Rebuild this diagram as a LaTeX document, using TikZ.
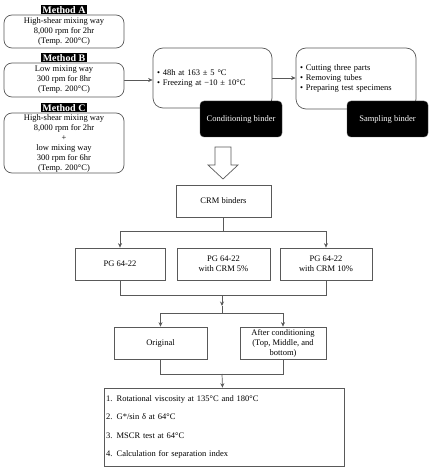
\documentclass[tikz,border=0pt]{standalone}
\usepackage{fontspec}
\setmainfont{Liberation Serif}
\usetikzlibrary{arrows.meta}
\pgfdeclarelayer{nodelayer}
\pgfdeclarelayer{edgelayer}
\pgfsetlayers{edgelayer,nodelayer,main}
\tikzstyle{none}=[inner sep=0pt]
\tikzset{line/.style={draw=black!65, line width=0.7pt}}
\tikzset{arrow/.style={line, -{Stealth[length=4.5pt, width=4pt]}}}
\tikzset{method/.style={draw=black!65, line width=0.7pt, rounded corners=8pt, fill=white, align=center, inner sep=0pt, minimum width=120pt}}
\tikzset{tag/.style={fill=black, text=white, font=\bfseries, inner sep=0pt, minimum width=46pt, minimum height=9pt}}
\tikzset{stage/.style={draw=black!65, line width=0.7pt, rounded corners=10pt, fill=white, align=left, inner xsep=4pt, inner ysep=0pt}}
\tikzset{darkbox/.style={fill=black, draw=black!70, rounded corners=4pt, text=white, minimum width=82pt, minimum height=36pt, inner sep=0pt}}
\tikzset{box/.style={draw=black!65, line width=0.7pt, fill=white, align=center, minimum height=32pt, inner sep=0pt}}

\begin{document}
\begin{tikzpicture}[x=1pt, y=-1pt, font=\fontsize{8.5}{10}\selectfont]
        \useasboundingbox (0, 0) rectangle (438, 473);
        \begin{pgfonlayer}{nodelayer}
            % mixing methods
            \node [style=method, minimum height=33pt] (1) at (64, 31.5) {High-shear mixing way\\8,000 rpm for 2hr\\(Temp. 200°C)};
            \node [style=tag, anchor=south] (0) at (1.north) {Method A};
            \node [style=method, minimum height=34pt] (3) at (64, 80) {Low mixing way\\300 rpm for 8hr\\(Temp. 200°C)};
            \node [style=tag, anchor=south] (2) at (3.north) {Method B};
            \node [style=method, minimum height=60pt] (5) at (64, 143) {High-shear mixing way\\8,000 rpm for 2hr\\+\\low mixing way\\300 rpm for 6hr\\(Temp. 200°C)};
            \node [style=tag, anchor=south] (4) at (5.north) {Method C};
            % conditioning and sampling
            \node [style=stage, text width=111pt, minimum height=60pt] (6) at (212.5, 78) {• 48h at 163 ± 5 °C\\• Freezing at −10 ± 10°C};
            \node [style=darkbox] (7) at (241, 119) {Conditioning binder};
            \node [style=stage, text width=112pt, minimum height=61pt] (8) at (356, 78.5) {• Cutting three parts\\• Removing tubes\\• Preparing test specimens};
            \node [style=darkbox, minimum width=81pt] (9) at (387.5, 119) {Sampling binder};
            % binders
            \node [style=box, minimum width=95pt] (10) at (223.5, 201) {CRM binders};
            \node [style=box, minimum width=90pt] (11) at (120, 264) {PG 64-22};
            \node [style=box, minimum width=93pt] (12) at (223.5, 264) {PG 64-22\\with CRM 5\%};
            \node [style=box, minimum width=92pt] (13) at (326, 264) {PG 64-22\\with CRM 10\%};
            \node [style=box, minimum width=93pt] (14) at (160.5, 343) {Original};
            \node [style=box, minimum width=86pt] (15) at (283, 343) {After conditioning\\(Top, Middle, and\\bottom)};
            \node [style=box, minimum width=240pt, minimum height=78pt, align=left, text width=236pt] (16) at (224, 427) {1. Rotational viscosity at 135°C and 180°C\\[8.5pt]2. G*/sin δ at 64°C\\[8.5pt]3. MSCR test at 64°C\\[8.5pt]4. Calculation for separation index};
            % bends
            \node [style=none] (17) at (223.5, 231) {};
            \node [style=none] (18) at (120, 231) {};
            \node [style=none] (19) at (326, 231) {};
            \node [style=none] (20) at (120, 295) {};
            \node [style=none] (21) at (326, 295) {};
            \node [style=none] (22) at (222, 295) {};
            \node [style=none] (23) at (222, 306) {};
            \node [style=none] (24) at (222, 313) {};
            \node [style=none] (25) at (160.5, 313) {};
            \node [style=none] (26) at (283, 313) {};
            \node [style=none] (27) at (160.5, 374) {};
            \node [style=none] (28) at (283, 374) {};
            \node [style=none] (29) at (222, 374) {};
        \end{pgfonlayer}
        \begin{pgfonlayer}{edgelayer}
            \draw [style=arrow] (3.east) to (3.east -| 6.west);
            \draw [style=arrow] (6.east) to (6.east -| 8.west);
            \draw [style=line, fill=white] (215, 147) -- (231, 147) -- (231, 165) -- (238, 165) -- (223, 179) -- (208, 165) -- (215, 165) -- cycle;
            \draw [style=line] (10) to (17.center);
            \draw [style=line] (18.center) to (19.center);
            \draw [style=arrow] (18.center) to (11);
            \draw [style=arrow] (19.center) to (13);
            \draw [style=line] (11) to (20.center) to (21.center) to (13);
            \draw [style=arrow] (22.center) to (23.center);
            \draw [style=line] (23.center) to (24.center);
            \draw [style=line] (25.center) to (26.center);
            \draw [style=arrow] (25.center) to (14);
            \draw [style=arrow] (26.center) to (15);
            \draw [style=line] (14) to (27.center) to (28.center) to (15);
            \draw [style=arrow] (29.center) to (16);
        \end{pgfonlayer}
\end{tikzpicture}
\end{document}
